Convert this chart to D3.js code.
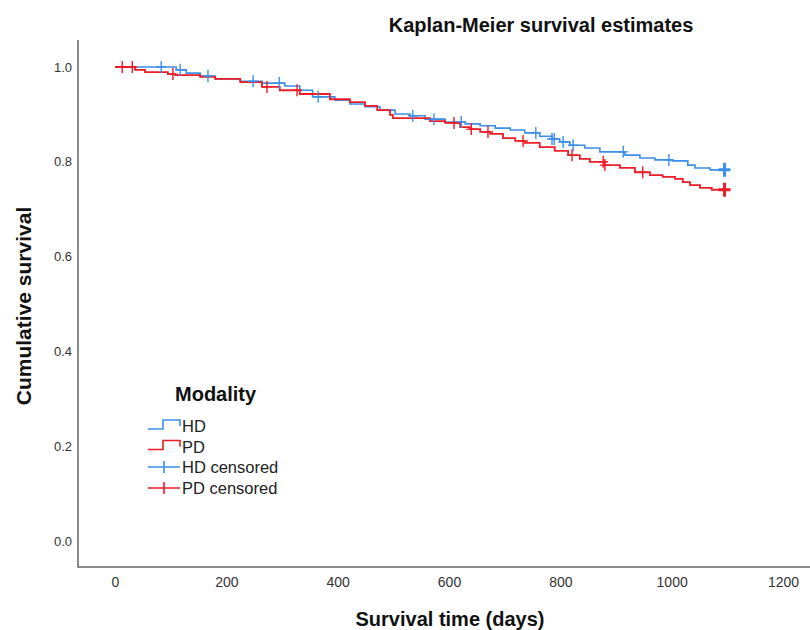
<!DOCTYPE html>
<html>
<head>
<meta charset="utf-8">
<script src="https://cdn.jsdelivr.net/npm/d3@7"></script>
<style>
  body { margin: 0; background: #fff; }
  svg { display: block; font-family: "Liberation Sans", Arial, sans-serif; }
</style>
</head>
<body>
<div id="chart"></div>
<script>
// HD (haemodialysis) Kaplan-Meier steps: time in days, survival after the step
var hdTimes = [0, 110, 128, 153, 180, 225, 264, 305, 332, 355, 395, 422, 449, 476, 503, 530, 557, 593, 629, 656, 683, 710, 736, 763, 785, 799, 817, 844, 871, 916, 943, 970, 1001, 1029, 1042, 1069];
var hdSurv = [1.0, 0.994, 0.987, 0.981, 0.975, 0.970, 0.966, 0.960, 0.951, 0.937, 0.930, 0.922, 0.916, 0.909, 0.901, 0.897, 0.890, 0.884, 0.880, 0.876, 0.871, 0.867, 0.861, 0.854, 0.848, 0.842, 0.835, 0.829, 0.821, 0.814, 0.808, 0.804, 0.802, 0.793, 0.787, 0.783];
var hdCensored = [83, 117, 167, 248, 295, 365, 535, 573, 622, 756, 785, 789, 805, 823, 913, 995];

// PD (peritoneal dialysis)
var pdTimes = [0, 36, 54, 95, 108, 153, 180, 225, 264, 296, 332, 386, 422, 449, 471, 494, 499, 566, 593, 620, 638, 656, 674, 697, 719, 736, 763, 790, 814, 835, 853, 880, 907, 934, 961, 984, 1006, 1020, 1033, 1051, 1072];
var pdSurv = [1.0, 0.994, 0.989, 0.985, 0.983, 0.979, 0.975, 0.968, 0.958, 0.951, 0.943, 0.932, 0.926, 0.918, 0.909, 0.899, 0.892, 0.886, 0.882, 0.873, 0.869, 0.863, 0.859, 0.850, 0.844, 0.840, 0.831, 0.823, 0.814, 0.806, 0.800, 0.793, 0.787, 0.778, 0.772, 0.768, 0.764, 0.757, 0.751, 0.745, 0.741];
var pdCensored = [13, 31, 104, 273, 327, 609, 640, 670, 733, 821, 877, 880, 948];

var endTime = 1095;
var xTicks = [0, 200, 400, 600, 800, 1000, 1200];
var yTicks = [0, 0.2, 0.4, 0.6, 0.8, 1.0];
var legendLabels = ['HD', 'PD', 'HD censored', 'PD censored'];

var width = 810, height = 630;
var blue = '#3c8fe8', red = '#ec1c28';

var svg = d3.select('#chart').append('svg')
    .attr('width', width)
    .attr('height', height);

// scales
var x = d3.scaleLinear().domain([0, 1200]).range([115, 783]);
var y = d3.scaleLinear().domain([0, 1]).range([541, 67]);

// frame lines (left and bottom)
var frame = { left: 78, top: 40, bottom: 567, right: 810 };
svg.append('path')
    .attr('d', 'M' + frame.left + ',' + frame.top + 'V' + frame.bottom + 'H' + frame.right)
    .attr('fill', 'none')
    .attr('stroke', '#666')
    .attr('stroke-width', 1.5);

// y tick labels
svg.append('g')
    .attr('transform', 'translate(' + (frame.left - 6) + ',0)')
    .call(d3.axisLeft(y).tickValues(yTicks).tickSize(0).tickPadding(0).tickFormat(d3.format('.1f')))
    .call(function (g) { g.select('.domain').remove(); })
    .selectAll('text')
    .attr('font-size', 13)
    .attr('font-family', '"Liberation Sans", Arial, sans-serif')
    .attr('fill', '#333');

// x tick labels
svg.append('g')
    .attr('transform', 'translate(0,' + (frame.bottom + 10) + ')')
    .call(d3.axisBottom(x).tickValues(xTicks).tickSize(0).tickPadding(0).tickFormat(d3.format('d')))
    .call(function (g) { g.select('.domain').remove(); })
    .selectAll('text')
    .attr('font-size', 14)
    .attr('font-family', '"Liberation Sans", Arial, sans-serif')
    .attr('fill', '#333');

function steps(times, surv) {
    var pts = times.map(function (t, i) { return [t, surv[i]]; });
    pts.push([endTime, surv[surv.length - 1]]);
    return pts;
}

function survAt(times, surv, t) {
    var i = d3.bisectRight(times, t) - 1;
    return surv[Math.max(0, i)];
}

var line = d3.line()
    .x(function (d) { return x(d[0]); })
    .y(function (d) { return y(d[1]); })
    .curve(d3.curveStepAfter);

svg.append('path')
    .datum(steps(hdTimes, hdSurv))
    .attr('fill', 'none')
    .attr('stroke', blue)
    .attr('stroke-width', 1.6)
    .attr('d', line);

svg.append('path')
    .datum(steps(pdTimes, pdSurv))
    .attr('fill', 'none')
    .attr('stroke', red)
    .attr('stroke-width', 1.8)
    .attr('d', line);

// censored marks
function crosses(times, surv, cens, color) {
    var g = svg.append('g').attr('stroke', color).attr('fill', 'none');
    g.selectAll('path.c')
        .data(cens)
        .enter().append('path')
        .attr('class', 'c')
        .attr('stroke-width', 1.4)
        .attr('d', function (t) {
            var cx = x(t), cy = y(survAt(times, surv, t));
            return 'M' + (cx - 5) + ',' + cy + 'H' + (cx + 5) + 'M' + cx + ',' + (cy - 6) + 'V' + (cy + 6);
        });
    // end of follow-up, many censored together
    var ex = x(endTime), ey = y(surv[surv.length - 1]);
    g.append('path')
        .attr('stroke-width', 3)
        .attr('d', 'M' + (ex - 6) + ',' + ey + 'H' + (ex + 6) + 'M' + ex + ',' + (ey - 7) + 'V' + (ey + 7));
}
crosses(hdTimes, hdSurv, hdCensored, blue);
crosses(pdTimes, pdSurv, pdCensored, red);

// titles
svg.append('text')
    .attr('x', 541).attr('y', 32)
    .attr('text-anchor', 'middle')
    .attr('font-size', 20).attr('font-weight', 'bold')
    .attr('fill', '#111')
    .text('Kaplan-Meier survival estimates');

svg.append('text')
    .attr('transform', 'translate(31,306) rotate(-90)')
    .attr('text-anchor', 'middle')
    .attr('font-size', 21).attr('font-weight', 'bold')
    .attr('fill', '#111')
    .text('Cumulative survival');

svg.append('text')
    .attr('x', 450).attr('y', 626)
    .attr('text-anchor', 'middle')
    .attr('font-size', 20).attr('font-weight', 'bold')
    .attr('fill', '#111')
    .text('Survival time (days)');

// legend
var legend = svg.append('g').attr('transform', 'translate(148,0)');
legend.append('text')
    .attr('x', 27).attr('y', 401)
    .attr('font-size', 20).attr('font-weight', 'bold')
    .attr('fill', '#111')
    .text('Modality');

var rowY = [432, 452.5, 473, 494];
var colors = [blue, red, blue, red];
legendLabels.forEach(function (label, i) {
    var base = rowY[i];
    var g = legend.append('g').attr('stroke', colors[i]).attr('fill', 'none').attr('stroke-width', 1.6);
    if (i < 2) {
        g.append('path').attr('d', 'M0,' + (base - 3) + 'H15V' + (base - 12) + 'H32V' + (base - 6));
    } else {
        g.append('path').attr('d', 'M0,' + (base - 6) + 'H32M16,' + (base - 12) + 'V' + base);
    }
    legend.append('text')
        .attr('x', 34).attr('y', base)
        .attr('font-size', 16.5)
        .attr('fill', '#222')
        .text(label);
});
</script>
</body>
</html>
